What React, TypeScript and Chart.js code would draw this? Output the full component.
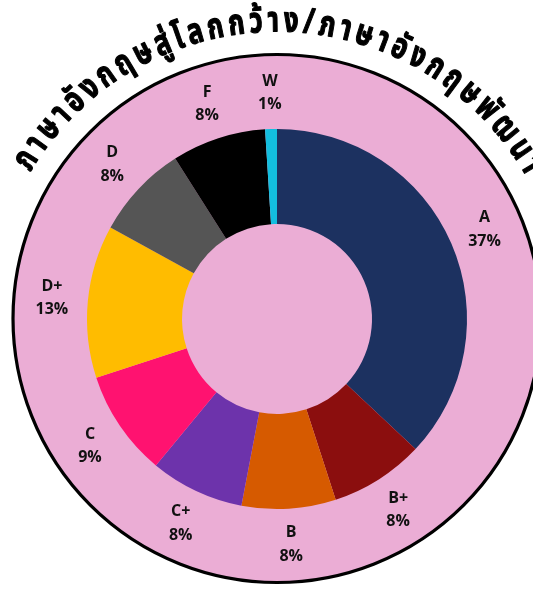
import React, { useEffect, useRef } from "react";
import { Chart, registerables } from "chart.js";

Chart.register(...registerables);

const grades = ["A", "B+", "B", "C+", "C", "D+", "D", "F", "W"];
const shares = [37, 8, 8, 8, 9, 13, 8, 8, 1];
const sliceColors = [
  "#1C3160",
  "#8B0E0E",
  "#D65A00",
  "#6D33AB",
  "#FF1270",
  "#FFBC00",
  "#555555",
  "#000000",
  "#13BEDF",
];
const arcTitle = "ภาษาอังกฤษสู่โลกกว้าง/ภาษาอังกฤษพัฒนา";

const PINK = "#EBADD5";
const THAI_FONT = '"Noto Sans Thai", "Noto Sans Thai UI", Loma, Garuda, "Tlwg Typo", "Noto Sans", sans-serif';
const LABEL_FONT = '"Open Sans", "Noto Sans", sans-serif';

function splitClusters(s: string): string[] {
  const out: string[] = [];
  for (const ch of s) {
    const c = ch.codePointAt(0) || 0;
    const comb = c === 0x0e31 || (c >= 0x0e34 && c <= 0x0e3a) || (c >= 0x0e47 && c <= 0x0e4e);
    if (comb && out.length) out[out.length - 1] += ch;
    else out.push(ch);
  }
  return out;
}

const decorPlugin = {
  id: "decor",
  beforeDatasetsDraw(chart: any) {
    const meta = chart.getDatasetMeta(0);
    const arc = meta.data[0];
    if (!arc) return;
    const { x: cx, y: cy, outerRadius } = arc.getProps(["x", "y", "outerRadius"], true);
    const k = outerRadius / 190;
    const ctx = chart.ctx;
    ctx.save();
    // pink disc
    ctx.beginPath();
    ctx.arc(cx, cy - 0.5, 264 * k, 0, Math.PI * 2);
    ctx.fillStyle = PINK;
    ctx.fill();
    ctx.lineWidth = 3.2;
    ctx.strokeStyle = "#000";
    ctx.stroke();

    // curved title
    const parts = splitClusters(arcTitle);
    const sx = 0.74;
    ctx.font = `bold ${Math.round(35 * k)}px ${THAI_FONT}`;
    ctx.fillStyle = "#000";
    ctx.strokeStyle = "#000";
    ctx.lineWidth = 1.3;
    ctx.lineJoin = "round";
    ctx.textAlign = "center";
    ctx.textBaseline = "alphabetic";
    const widths = parts.map((p) => ctx.measureText(p).width * sx);
    const r = 287 * k;
    const a0 = (-59.3 * Math.PI) / 180;
    const a1 = (60.0 * Math.PI) / 180;
    const L = (a1 - a0) * r;
    const sumW = widths.reduce((s, w) => s + w, 0);
    const gap = (L - sumW) / (parts.length - 1);
    let pos = 0;
    parts.forEach((p, i) => {
      const s = pos + widths[i] / 2;
      const a = a0 + s / r;
      ctx.save();
      ctx.translate(cx + r * Math.sin(a), cy - 0.5 - r * Math.cos(a));
      ctx.rotate(a);
      ctx.scale(sx, 1);
      ctx.fillText(p, 0, 0);
      ctx.strokeText(p, 0, 0);
      ctx.restore();
      pos += widths[i] + gap;
    });
    ctx.restore();
  },
  afterDatasetsDraw(chart: any) {
    const meta = chart.getDatasetMeta(0);
    const ctx = chart.ctx;
    const total = shares.reduce((s, v) => s + v, 0);
    ctx.save();
    ctx.fillStyle = "#111";
    ctx.textAlign = "center";
    ctx.textBaseline = "middle";
    ctx.font = `bold 16px ${LABEL_FONT}`;
    meta.data.forEach((el: any, i: number) => {
      const { x, y, startAngle, endAngle, outerRadius } = el.getProps(
        ["x", "y", "startAngle", "endAngle", "outerRadius"],
        true
      );
      const mid = (startAngle + endAngle) / 2;
      const rr = outerRadius * 1.19;
      const lx = x + rr * Math.cos(mid);
      const ly = y + rr * Math.sin(mid);
      const pct = Math.round((shares[i] / total) * 100) + "%";
      ctx.fillText(grades[i], lx, ly - 11.75);
      ctx.fillText(pct, lx, ly + 11.75);
    });
    ctx.restore();
  },
};

export default function App() {
  const ref = useRef<HTMLCanvasElement | null>(null);
  useEffect(() => {
    if (!ref.current) return;
    const chart = new Chart(ref.current, {
      type: "doughnut",
      data: {
        labels: grades,
        datasets: [
          {
            data: shares,
            backgroundColor: sliceColors,
            borderWidth: 0,
            hoverOffset: 0,
            offset: 0,
          },
        ],
      },
      options: {
        responsive: false,
        animation: false,
        devicePixelRatio: 1,
        cutout: "50%",
        layout: { padding: { left: 87, right: 66, top: 129, bottom: 80 } },
        plugins: {
          legend: { display: false },
          title: { display: false },
          tooltip: { enabled: false },
        },
      },
      plugins: [decorPlugin],
    });
    return () => chart.destroy();
  }, []);
  return (
    <div style={{ position: "fixed", left: 0, top: 0, width: 533, height: 589, background: "#fff" }}>
      <canvas ref={ref} width={533} height={589} style={{ width: 533, height: 589, display: "block" }} />
    </div>
  );
}
